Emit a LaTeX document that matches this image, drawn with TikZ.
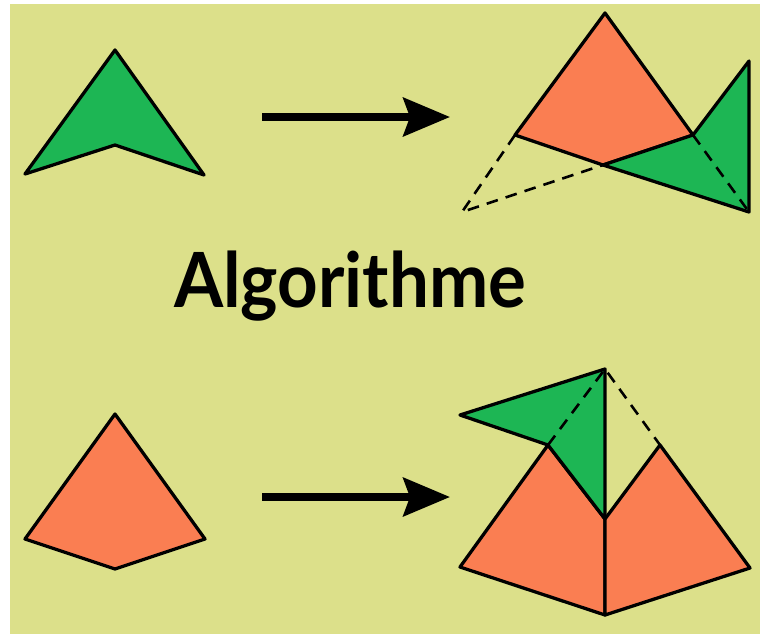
\documentclass[tikz,border=0pt]{standalone}
\usepackage{fontspec}
\newfontfamily\titre{Lato}
\usetikzlibrary{arrows.meta}
\definecolor{fond}{RGB}{220,224,138}
\definecolor{vert}{RGB}{29,182,84}
\definecolor{corail}{RGB}{250,126,82}

\begin{document}
\begin{tikzpicture}[x=0.03cm,y=-0.03cm,line join=round,
  >={Stealth[length=1.4cm,width=1.15cm,inset=0.2cm]},
  pv/.style={draw,fill=vert,line width=2.8pt},
  po/.style={draw,fill=corail,line width=2.8pt},
  pli/.style={dash pattern=on 10pt off 7pt,line width=2.2pt},
  fl/.style={->,line width=6.5pt}]
  \useasboundingbox (0,0) rectangle (760,634);
  \fill[fond] (10,4) rectangle (760,634);
  % en haut : la piece verte
  \coordinate (v1) at (115,50);  \coordinate (v2) at (25,174);
  \coordinate (v3) at (115,145); \coordinate (v4) at (204,175);
  \draw[pv] (v1)--(v2)--(v3)--(v4)--cycle;
  \coordinate (h1) at (262,117); \coordinate (h2) at (450,117);
  \draw[fl] (h1)--(h2);
  \coordinate (ka) at (605,13);  \coordinate (kg) at (515,135);
  \coordinate (kb) at (603,165); \coordinate (kd) at (693,135);
  \coordinate (gh) at (749,61);  \coordinate (gb) at (749,212);
  \coordinate (px) at (462,212);
  \draw[po] (ka)--(kg)--(kb)--(kd)--cycle;
  \draw[pv] (kb)--(kd)--(gh)--(gb)--cycle;
  \draw[pli] (kg)--(px)--(kb);
  \draw[pli] (kd)--(gb);
  % le titre
  \node[font=\titre\bfseries\fontsize{65}{70}\selectfont,anchor=base,inner sep=0pt,xscale=0.93](alg) at (350,307){Algorithme};
  % en bas : la piece orange
  \coordinate (o1) at (115,414); \coordinate (o2) at (25,539);
  \coordinate (o3) at (115,569); \coordinate (o4) at (205,539);
  \draw[po] (o1)--(o2)--(o3)--(o4)--cycle;
  \coordinate (b1) at (262,497); \coordinate (b2) at (450,497);
  \draw[fl] (b1)--(b2);
  \coordinate (lh) at (548,445); \coordinate (lg) at (460,567);
  \coordinate (mb) at (605,615); \coordinate (mc) at (605,519);
  \coordinate (rh) at (660,445); \coordinate (rd) at (750,568);
  \coordinate (sh) at (605,369); \coordinate (sg) at (460,415);
  \draw[po] (lh)--(lg)--(mb)--(mc)--cycle;
  \draw[po] (rh)--(rd)--(mb)--(mc)--cycle;
  \draw[pv] (mc)--(sh)--(sg)--(lh)--cycle;
  \draw[pli] (lh)--(sh)--(rh);
\end{tikzpicture}
\end{document}
